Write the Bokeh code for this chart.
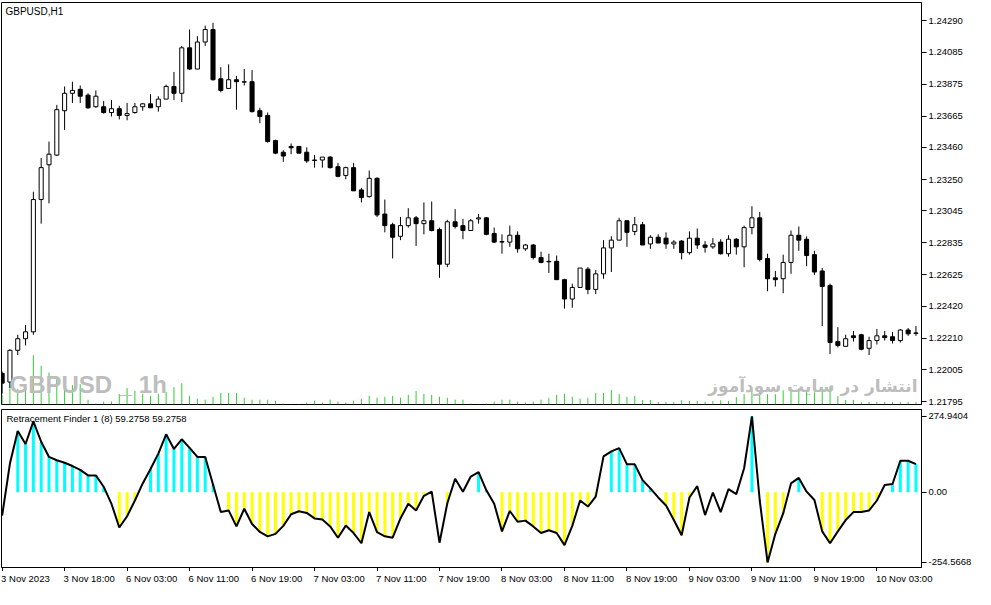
from bokeh.plotting import figure
from bokeh.models import Range1d, FixedTicker, Label, ColumnDataSource, NumeralTickFormatter
from bokeh.layouts import column
from bokeh.embed import file_html
from bokeh.resources import INLINE
from bokeh.core.properties import value

# ---------------- data (GBPUSD H1) ----------------
opens = [1.21980, 1.21923, 1.22131, 1.22207, 1.22252, 1.23119, 1.23347, 1.23410, 1.23701, 1.23815,
         1.23841, 1.23803, 1.23727, 1.23727, 1.23689, 1.23714, 1.23670, 1.23689, 1.23727, 1.23746,
         1.23727, 1.23777, 1.23860, 1.23815, 1.24113, 1.23974, 1.24151, 1.24233, 1.23910, 1.23847,
         1.23904, 1.23888, 1.23891, 1.23701, 1.23670, 1.23505, 1.23429, 1.23467, 1.23467, 1.23429,
         1.23378, 1.23378, 1.23397, 1.23334, 1.23277, 1.23328, 1.23182, 1.23138, 1.23258, 1.23024,
         1.22954, 1.22878, 1.22948, 1.22999, 1.22961, 1.22980, 1.22923, 1.22695, 1.22973, 1.22948,
         1.22916, 1.22992, 1.22999, 1.22897, 1.22844, 1.22840, 1.22885, 1.22796, 1.22821, 1.22739,
         1.22714, 1.22714, 1.22594, 1.22467, 1.22543, 1.22663, 1.22530, 1.22632, 1.22802, 1.22853,
         1.22980, 1.22910, 1.22954, 1.22828, 1.22872, 1.22866, 1.22828, 1.22847, 1.22771, 1.22866,
         1.22821, 1.22809, 1.22840, 1.22764, 1.22859, 1.22809, 1.22935, 1.22999, 1.22733, 1.22606,
         1.22600, 1.22707, 1.22885, 1.22859, 1.22758, 1.22651, 1.22556, 1.22188, 1.22157, 1.22226,
         1.22233, 1.22144, 1.22195, 1.22226, 1.22220, 1.22195, 1.22264, 1.22242]
highs = [1.21992, 1.22138, 1.22233, 1.22296, 1.23170, 1.23391, 1.23499, 1.23739, 1.23860, 1.23891,
         1.23866, 1.23815, 1.23834, 1.23765, 1.23771, 1.23733, 1.23752, 1.23752, 1.23752, 1.23809,
         1.23796, 1.23872, 1.23955, 1.24125, 1.24233, 1.24189, 1.24258, 1.24277, 1.23986, 1.24005,
         1.23929, 1.23974, 1.23967, 1.23720, 1.23689, 1.23511, 1.23442, 1.23486, 1.23467, 1.23461,
         1.23410, 1.23397, 1.23404, 1.23359, 1.23334, 1.23359, 1.23195, 1.23309, 1.23265, 1.23119,
         1.22967, 1.23005, 1.23062, 1.23011, 1.23100, 1.23106, 1.22935, 1.22986, 1.23056, 1.22992,
         1.22992, 1.23024, 1.23005, 1.22935, 1.22891, 1.22948, 1.22910, 1.22828, 1.22828, 1.22777,
         1.22764, 1.22752, 1.22600, 1.22568, 1.22670, 1.22676, 1.22657, 1.22853, 1.22878, 1.22999,
         1.22980, 1.23005, 1.22973, 1.22885, 1.22891, 1.22904, 1.22853, 1.22853, 1.22910, 1.22929,
         1.22847, 1.22866, 1.22859, 1.22885, 1.22866, 1.22948, 1.23075, 1.23037, 1.22764, 1.22651,
         1.22758, 1.22916, 1.22942, 1.22878, 1.22783, 1.22670, 1.22568, 1.22283, 1.22233, 1.22258,
         1.22239, 1.22220, 1.22271, 1.22258, 1.22252, 1.22271, 1.22277, 1.22290]
lows = [1.21847, 1.21885, 1.22100, 1.22163, 1.22233, 1.22961, 1.23094, 1.23404, 1.23575, 1.23752,
        1.23752, 1.23714, 1.23720, 1.23682, 1.23663, 1.23644, 1.23638, 1.23682, 1.23701, 1.23720,
        1.23695, 1.23777, 1.23771, 1.23758, 1.23967, 1.23974, 1.24125, 1.23898, 1.23822, 1.23847,
        1.23708, 1.23866, 1.23689, 1.23619, 1.23492, 1.23416, 1.23366, 1.23416, 1.23423, 1.23359,
        1.23328, 1.23328, 1.23322, 1.23265, 1.23252, 1.23176, 1.23100, 1.23132, 1.23005, 1.22904,
        1.22733, 1.22853, 1.22935, 1.22815, 1.22891, 1.22910, 1.22606, 1.22676, 1.22929, 1.22859,
        1.22916, 1.22961, 1.22885, 1.22834, 1.22764, 1.22809, 1.22771, 1.22783, 1.22726, 1.22701,
        1.22638, 1.22594, 1.22404, 1.22410, 1.22543, 1.22499, 1.22499, 1.22600, 1.22644, 1.22853,
        1.22809, 1.22885, 1.22821, 1.22796, 1.22834, 1.22796, 1.22796, 1.22726, 1.22758, 1.22796,
        1.22771, 1.22796, 1.22758, 1.22745, 1.22758, 1.22676, 1.22891, 1.22714, 1.22518, 1.22549,
        1.22505, 1.22632, 1.22783, 1.22682, 1.22625, 1.22290, 1.22106, 1.22150, 1.22157, 1.22188,
        1.22131, 1.22100, 1.22169, 1.22195, 1.22176, 1.22182, 1.22226, 1.22226]
closes = [1.21916, 1.22131, 1.22207, 1.22252, 1.23119, 1.23328, 1.23416, 1.23708, 1.23815, 1.23834,
          1.23796, 1.23720, 1.23796, 1.23689, 1.23714, 1.23670, 1.23682, 1.23727, 1.23746, 1.23720,
          1.23777, 1.23860, 1.23815, 1.24113, 1.23974, 1.24151, 1.24233, 1.23904, 1.23834, 1.23904,
          1.23891, 1.23891, 1.23695, 1.23663, 1.23499, 1.23423, 1.23404, 1.23458, 1.23423, 1.23372,
          1.23375, 1.23397, 1.23328, 1.23271, 1.23328, 1.23176, 1.23132, 1.23258, 1.23018, 1.22948,
          1.22872, 1.22948, 1.22999, 1.22961, 1.22980, 1.22916, 1.22695, 1.22973, 1.22942, 1.22916,
          1.22980, 1.22999, 1.22891, 1.22840, 1.22840, 1.22885, 1.22796, 1.22821, 1.22739, 1.22707,
          1.22711, 1.22594, 1.22467, 1.22543, 1.22670, 1.22530, 1.22632, 1.22802, 1.22853, 1.22980,
          1.22904, 1.22954, 1.22821, 1.22872, 1.22834, 1.22828, 1.22840, 1.22771, 1.22866, 1.22821,
          1.22806, 1.22828, 1.22764, 1.22859, 1.22809, 1.22935, 1.22999, 1.22726, 1.22600, 1.22594,
          1.22707, 1.22885, 1.22853, 1.22752, 1.22644, 1.22549, 1.22182, 1.22163, 1.22207, 1.22214,
          1.22138, 1.22195, 1.22226, 1.22214, 1.22195, 1.22264, 1.22239, 1.22245]
volumes = [600, 1320, 960, 1080, 3060, 2400, 1980, 1560, 1740, 1200,
           1260, 300, 60, 180, 180, 660, 1020, 840, 660, 540,
           660, 780, 1080, 1320, 540, 360, 300, 480, 720, 720,
           720, 420, 300, 300, 300, 240, 60, 30, 30, 120,
           240, 120, 300, 180, 120, 240, 360, 540, 420, 480,
           540, 420, 600, 840, 660, 600, 480, 420, 300, 300,
           60, 30, 60, 180, 300, 300, 180, 120, 180, 300,
           420, 600, 660, 480, 360, 420, 720, 720, 900, 660,
           480, 540, 270, 280, 160, 160, 160, 260, 220, 220,
           160, 220, 260, 220, 460, 640, 880, 880, 640, 640,
           880, 1000, 1000, 880, 760, 1000, 1120, 520, 280, 280,
           160, 160, 160, 160, 160, 160, 160, 160]

# Retracement Finder 1 (8)
rf_line = [-85, 104, 222, 175, 257, 183, 128, 116, 107, 95,
           81, 61, 61, 20, -42, -128, -87, -30, 32, 84,
           140, 210, 157, 192, 161, 128, 128, 28, -72, -66,
           -124, -60, -115, -144, -160, -151, -122, -80, -69, -75,
           -95, -99, -124, -165, -121, -148, -185, -72, -145, -160,
           -165, -95, -42, -66, -13, 2, -183, -40, 49, 2,
           57, 73, 7, -42, -142, -68, -107, -103, -124, -148,
           -138, -148, -192, -122, -30, -52, -16, 130, 148, 160,
           101, 101, 44, 14, -19, -48, -101, -156, -19, 22,
           -83, -1, -72, 11, -7, 87, 274.9404, -30, -254.5668, -151,
           -77, 32, 52, 2, -28, -142, -185, -142, -101, -72,
           -72, -66, -30, 26, 30, 114, 114, 102]
rf_hist_shown = [0, 0, 1, 1, 1, 1, 1, 1, 1, 1,
                 1, 1, 1, 1, 0, 1, 1, 1, 0, 1,
                 1, 1, 1, 1, 1, 1, 1, 1, 0, 1,
                 1, 1, 1, 1, 1, 1, 1, 1, 1, 1,
                 1, 1, 1, 1, 1, 1, 1, 1, 1, 1,
                 1, 1, 1, 1, 1, 0, 0, 1, 0, 0,
                 0, 1, 1, 0, 1, 1, 1, 1, 1, 1,
                 1, 1, 1, 1, 1, 1, 1, 0, 1, 1,
                 1, 1, 1, 1, 0, 1, 1, 1, 1, 0,
                 0, 0, 0, 0, 0, 0, 1, 0, 1, 1,
                 1, 0, 1, 0, 0, 1, 1, 1, 1, 1,
                 1, 1, 1, 0, 1, 1, 1, 1]

price_ticks = [1.24290, 1.24085, 1.23875, 1.23665, 1.23460, 1.23250, 1.23045,
               1.22835, 1.22625, 1.22420, 1.22210, 1.22005, 1.21795]
rf_ticks = [274.9404, 0.0, -254.5668]
rf_tick_labels = ["274.9404", "0.00", "-254.5668"]
time_tick_labels = ["3 Nov 2023", "3 Nov 18:00", "6 Nov 03:00", "6 Nov 11:00", "6 Nov 19:00",
                    "7 Nov 03:00", "7 Nov 11:00", "7 Nov 19:00", "8 Nov 03:00", "8 Nov 11:00",
                    "8 Nov 19:00", "9 Nov 03:00", "9 Nov 11:00", "9 Nov 19:00", "10 Nov 03:00"]
bars_per_time_label = 8

# ---------------- derived ----------------
n = len(opens)
idx = list(range(n))
body_top = [max(o, c) for o, c in zip(opens, closes)]
body_bot = [min(o, c) for o, c in zip(opens, closes)]
body_fill = ["white" if c >= o else "black" for o, c in zip(opens, closes)]
candles = ColumnDataSource(dict(x=idx, top=body_top, bottom=body_bot, high=highs, low=lows,
                                fill=body_fill, vol=volumes, zero=[0] * n))

hx = [i for i in idx if rf_hist_shown[i]]
hv = [rf_line[i] for i in hx]
hc = ["#00FFFF" if v >= 0 else "#FFFF00" for v in hv]
hist = ColumnDataSource(dict(x=hx, top=hv, color=hc))

time_ticks = [i * bars_per_time_label for i in range(len(time_tick_labels))]
time_src = ColumnDataSource(dict(x=time_ticks, y=[1] * len(time_ticks), text=time_tick_labels))

FONT = "Liberation Sans"
FS = "9.5px"
FRAME_W = 920
X0, X1 = -0.08, 117.71
x_rng = Range1d(X0, X1)


def style_axis(ax):
    ax.axis_line_color = "black"
    ax.major_tick_line_color = "black"
    ax.major_tick_in = 0
    ax.major_tick_out = 5
    ax.minor_tick_line_color = None
    ax.major_label_text_font = FONT
    ax.major_label_text_font_size = FS
    ax.major_label_text_color = "black"
    ax.major_label_standoff = 2


# ---------------- price panel ----------------
p1 = figure(frame_width=FRAME_W, frame_height=402, x_range=x_rng,
            y_range=Range1d(1.21776, 1.24410), x_axis_location=None, y_axis_location="right",
            output_backend="svg", toolbar_location=None,
            min_border_left=1, min_border_top=2, min_border_bottom=5, min_border_right=0,
            background_fill_color="white", border_fill_color="white",
            outline_line_color="black", outline_line_width=1)
p1.grid.visible = False
p1.extra_y_ranges = {"vol": Range1d(0, 24960)}
style_axis(p1.yaxis[0])
p1.yaxis[0].ticker = FixedTicker(ticks=price_ticks)
p1.yaxis[0].formatter = NumeralTickFormatter(format="0.00000")

# watermarks
p1.add_layout(Label(x=8, y=7, x_units="screen", y_units="screen", text="GBPUSD _ 1h",
                    text_font=FONT, text_font_size="24px", text_font_style="bold",
                    text_color="#BDBDBD"))
p1.add_layout(Label(x=916, y=9, x_units="screen", y_units="screen", text="انتشار در سایت سودآموز",
                    text_font="DejaVu Sans", text_font_size="17px", text_font_style="bold",
                    text_color="#BDBDBD", text_align="right"))

p1.segment(x0="x", x1="x", y0="zero", y1="vol", source=candles, y_range_name="vol",
           line_color="#32CD32", line_width=1)
p1.segment(x0="x", x1="x", y0="low", y1="high", source=candles, line_color="black", line_width=1)
p1.vbar(x="x", top="top", bottom="bottom", width=0.52, source=candles,
        fill_color="fill", line_color="black", line_width=1)

p1.add_layout(Label(x=4, y=399, x_units="screen", y_units="screen", text="GBPUSD,H1",
                    text_font=FONT, text_font_size="10px", text_color="black",
                    text_baseline="top"))

# ---------------- indicator panel ----------------
p2 = figure(frame_width=FRAME_W, frame_height=158, x_range=x_rng,
            y_range=Range1d(-273, 300), y_axis_location="right",
            output_backend="svg", toolbar_location=None,
            min_border_left=1, min_border_top=0, min_border_bottom=0, min_border_right=0,
            background_fill_color="white", border_fill_color="white",
            outline_line_color="black", outline_line_width=1)
p2.grid.visible = False
style_axis(p2.yaxis[0])
p2.yaxis[0].ticker = FixedTicker(ticks=rf_ticks)
p2.yaxis[0].major_label_overrides = {t: s for t, s in zip(rf_ticks, rf_tick_labels)}
style_axis(p2.xaxis[0])
p2.xaxis[0].major_tick_out = 4
p2.xaxis[0].major_label_standoff = 0
p2.xaxis[0].ticker = FixedTicker(ticks=time_ticks)
p2.xaxis[0].major_label_overrides = {t: "" for t in time_ticks}

p2.vbar(x="x", top="top", bottom=0, width=0.38, source=hist, fill_color="color",
        line_color=None)
p2.line(idx, rf_line, line_color="black", line_width=2)

p2.add_layout(Label(x=5, y=155, x_units="screen", y_units="screen",
                    text="Retracement Finder 1 (8) 59.2758 59.2758",
                    text_font=FONT, text_font_size=FS, text_color="black",
                    text_baseline="top"))

# ---------------- time-label strip (MT4 labels start at their tick) ----------------
STRIP_W = 972
p3 = figure(frame_width=STRIP_W, frame_height=15,
            x_range=Range1d(X0, X0 + (X1 - X0) * STRIP_W / FRAME_W), y_range=Range1d(0, 1),
            x_axis_location=None, y_axis_location=None,
            output_backend="svg", toolbar_location=None,
            min_border_left=1, min_border_top=0, min_border_bottom=0, min_border_right=0,
            background_fill_color="white", border_fill_color="white", outline_line_color=None)
p3.grid.visible = False
p3.text(x="x", y="y", text="text", source=time_src, x_offset=-1, y_offset=1,
        text_align="left", text_baseline="top",
        text_font=value(FONT), text_font_size=FS, text_color="black")

layout = column(p1, p2, p3)
open("out.html", "w").write(file_html(layout, INLINE, title="GBPUSD,H1"))
